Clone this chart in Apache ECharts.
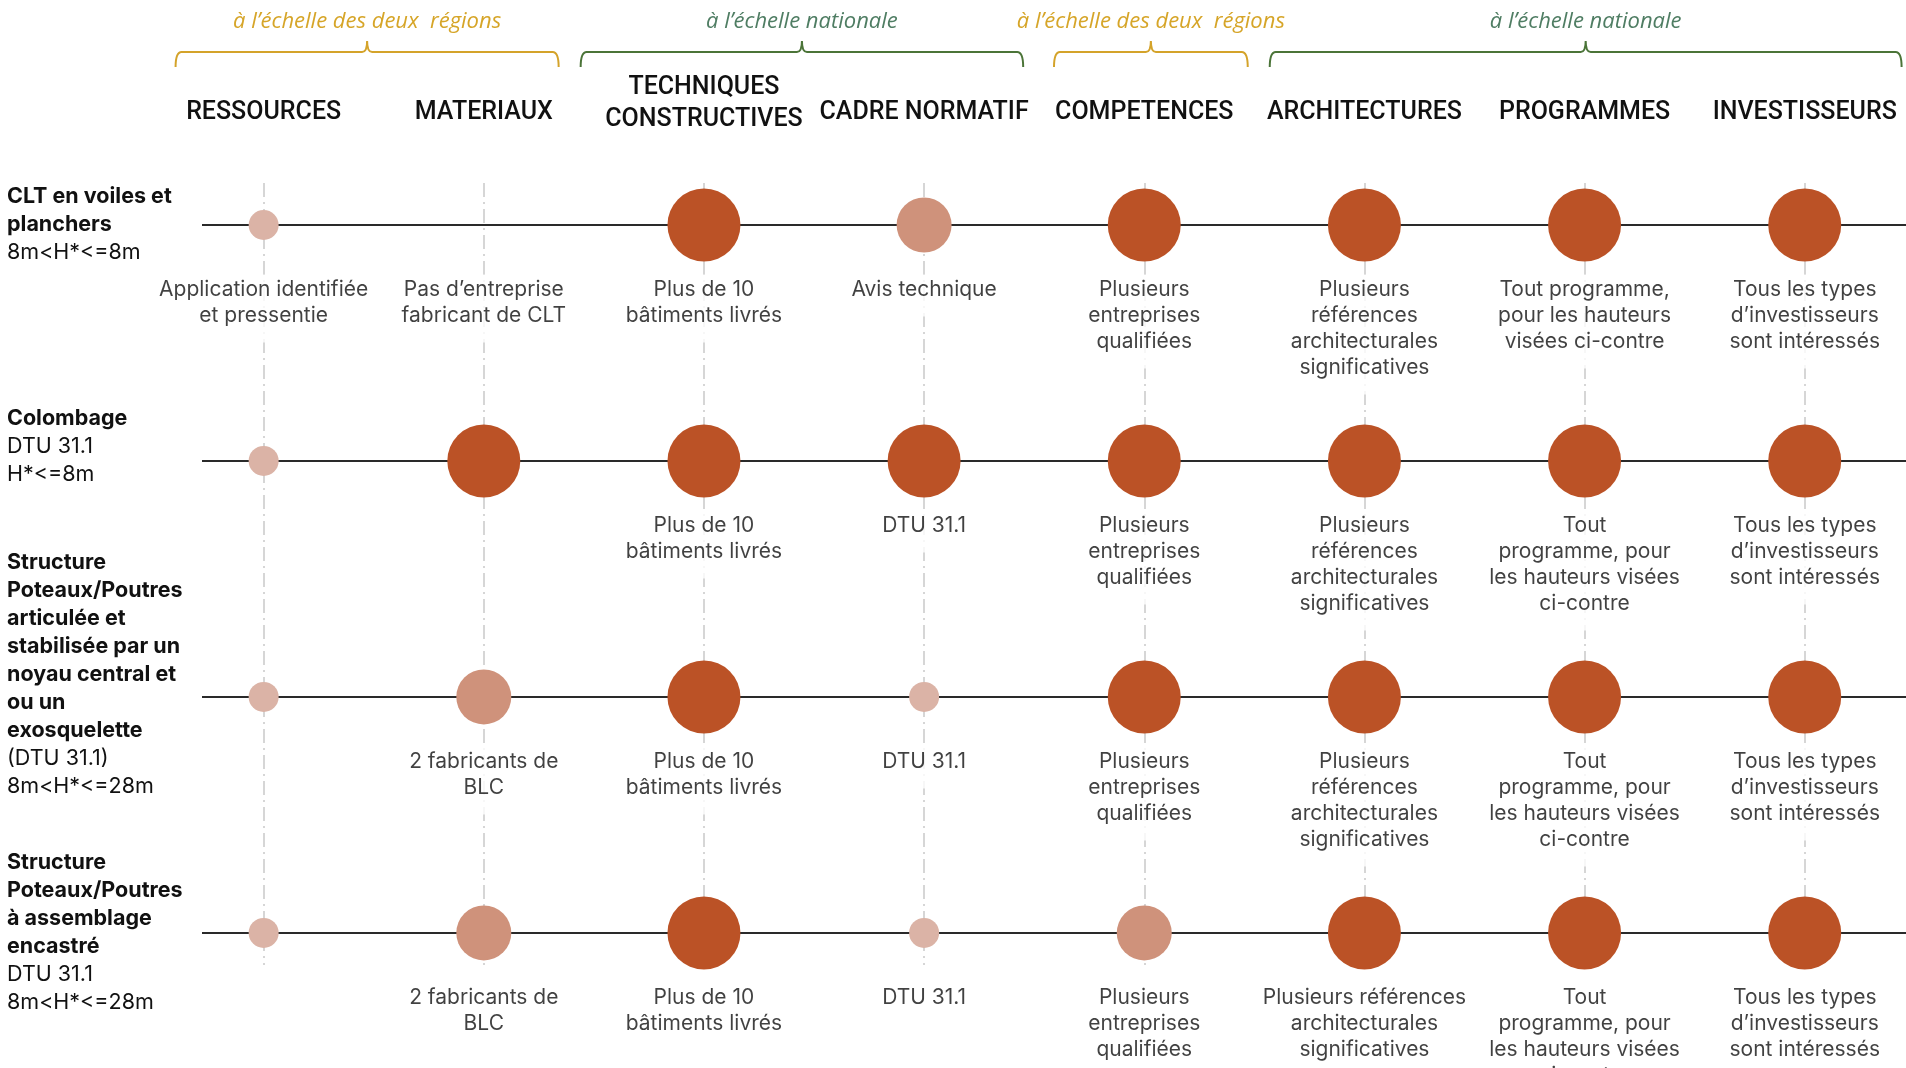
<!DOCTYPE html>
<html>
<head>
<meta charset="utf-8">
<script src="https://cdn.jsdelivr.net/npm/echarts@6/dist/echarts.min.js"></script>
<style>
  html, body { margin: 0; padding: 0; background: #ffffff; }
  #chart { width: 1906px; height: 1068px; }
</style>
</head>
<body>
<div id="chart"></div>
<script>
// ---------- DATA ----------
const categories = ['RESSOURCES', 'MATERIAUX', 'TECHNIQUES\nCONSTRUCTIVES', 'CADRE NORMATIF',
  'COMPETENCES', 'ARCHITECTURES', 'PROGRAMMES', 'INVESTISSEURS'];

const rowTitles = [
  'CLT en voiles et\nplanchers',
  'Colombage',
  'Structure\nPoteaux/Poutres\narticulée et\nstabilisée par un\nnoyau central et\nou un\nexosquelette',
  'Structure\nPoteaux/Poutres\nà assemblage\nencastré'
];
const rowSpecs = [
  '8m<H*<=8m',
  'DTU 31.1\nH*<=8m',
  '(DTU 31.1)\n8m<H*<=28m',
  'DTU 31.1\n8m<H*<=28m'
];

// maturity level per column: 0 = none, 1 = low, 2 = medium, 3 = high
const levelsCLT       = [1, 0, 3, 2, 3, 3, 3, 3];
const levelsColombage = [1, 3, 3, 3, 3, 3, 3, 3];
const levelsArticulee = [1, 2, 3, 1, 3, 3, 3, 3];
const levelsEncastre  = [1, 2, 3, 1, 2, 3, 3, 3];

const notesCLT = [
  'Application identifiée\net pressentie', 'Pas d’entreprise\nfabricant de CLT', 'Plus de 10\nbâtiments livrés',
  'Avis technique', 'Plusieurs\nentreprises\nqualifiées', 'Plusieurs\nréférences\narchitecturales\nsignificatives',
  'Tout programme,\npour les hauteurs\nvisées ci-contre', 'Tous les types\nd’investisseurs\nsont intéressés'
];
const notesColombage = [
  '', '', 'Plus de 10\nbâtiments livrés', 'DTU 31.1', 'Plusieurs\nentreprises\nqualifiées',
  'Plusieurs\nréférences\narchitecturales\nsignificatives',
  'Tout\nprogramme, pour\nles hauteurs visées\nci-contre', 'Tous les types\nd’investisseurs\nsont intéressés'
];
const notesArticulee = [
  '', '2 fabricants de\nBLC', 'Plus de 10\nbâtiments livrés', 'DTU 31.1', 'Plusieurs\nentreprises\nqualifiées',
  'Plusieurs\nréférences\narchitecturales\nsignificatives',
  'Tout\nprogramme, pour\nles hauteurs visées\nci-contre', 'Tous les types\nd’investisseurs\nsont intéressés'
];
const notesEncastre = [
  '', '2 fabricants de\nBLC', 'Plus de 10\nbâtiments livrés', 'DTU 31.1', 'Plusieurs\nentreprises\nqualifiées',
  'Plusieurs références\narchitecturales\nsignificatives',
  'Tout\nprogramme, pour\nles hauteurs visées\nci-contre', 'Tous les types\nd’investisseurs\nsont intéressés'
];

const groupLabels = ['à l’échelle des deux  régions', 'à l’échelle nationale', 'à l’échelle des deux  régions', 'à l’échelle nationale'];
const groupFirst  = [0, 2, 4, 5];
const groupLast   = [1, 3, 4, 7];
const groupScope  = ['regional', 'national', 'regional', 'national'];

// ---------- BUILD ----------
const levelRows = [levelsCLT, levelsColombage, levelsArticulee, levelsEncastre];
const noteRows = [notesCLT, notesColombage, notesArticulee, notesEncastre];

const symbolSizes = { 1: 30, 2: 55, 3: 73 };
const levelColors = { 1: '#DBB3A6', 2: '#CF927B', 3: '#BB5226' };
const scopeText = { regional: '#D6A528', national: '#4F7D63' };
const scopeBrace = { regional: '#D4A32A', national: '#4B7438' };
const titleSpacer = [0, 28, 44, 0];         // layout: extra space under row titles (px), lifts the block
const bracePadL = [0.40, 0.56, 0.41, 0.43]; // layout: brace overhang (axis units)
const bracePadR = [0.34, 0.45, 0.47, 0.44];

const circleData = [];
const noteData = [];
levelRows.forEach((row, r) => row.forEach((lvl, c) => {
  if (lvl > 0) circleData.push([c, r, lvl]);
}));
noteRows.forEach((row, r) => row.forEach((txt, c) => {
  if (txt) noteData.push({ value: [c, r], note: txt });
}));

const FONT = 'Inter, "Noto Sans", sans-serif';

const titleRich = {
  b: { fontFamily: FONT, fontSize: 21.5, fontWeight: 'bold', color: '#111', lineHeight: 28 },
  r: { fontFamily: FONT, fontSize: 21.5, fontWeight: 'normal', color: '#111', lineHeight: 28 }
};
titleSpacer.forEach((h, r) => { if (h) titleRich['s' + r] = { fontSize: 1, lineHeight: h }; });

const option = {
  backgroundColor: '#ffffff',
  animation: false,
  grid: { left: 202, right: 0, top: 183, bottom: 103, containLabel: false },
  xAxis: {
    type: 'value', min: -0.28, max: 7.46, position: 'top',
    axisLine: { show: false }, axisTick: { show: false }, splitLine: { show: false },
    axisLabel: {
      customValues: categories.map((_, i) => i),
      formatter: v => {
        const t = categories[Math.round(v)] || '';
        const lines = t.split('\n').map(s => '{h|' + s + '}');
        if (lines.length > 1) lines.push('{sp|\u00a0}');
        return lines.join('\n');
      },
      margin: 70, verticalAlign: 'middle', align: 'center',
      rich: {
        h: { fontFamily: 'Roboto, sans-serif', fontSize: 25, fontWeight: 500, color: '#111', lineHeight: 32 },
        sp: { fontSize: 1, lineHeight: 18 }
      }
    }
  },
  yAxis: {
    type: 'value', inverse: true, min: -0.178, max: 3.136,
    axisLine: { show: false }, axisTick: { show: false }, splitLine: { show: false },
    axisLabel: {
      customValues: rowTitles.map((_, i) => i),
      align: 'left', margin: 195, verticalAlign: 'middle',
      formatter: v => {
        const r = Math.round(v);
        const parts = rowTitles[r].split('\n').map(s => '{b|' + s + '}')
          .concat(rowSpecs[r].split('\n').map(s => '{r|' + s + '}'));
        if (titleSpacer[r]) parts.push('{s' + r + '|\u00a0}');
        return parts.join('\n');
      },
      rich: titleRich
    }
  },
  series: [
    {
      name: 'vlines', type: 'scatter', silent: true, z: 1,
      data: circleData, symbolSize: 0,
      markLine: {
        silent: true, symbol: 'none', label: { show: false }, animation: false, z: 1,
        lineStyle: { color: '#d6d6d6', width: 2, type: [14, 5, 2, 5] },
        data: categories.map((_, i) => ({ xAxis: i }))
      }
    },
    {
      name: 'hlines', type: 'scatter', silent: true, z: 2,
      data: circleData, symbolSize: 0,
      markLine: {
        silent: true, symbol: 'none', label: { show: false }, animation: false, z: 2,
        lineStyle: { color: '#2a2a2a', width: 2, type: 'solid' },
        data: rowTitles.map((_, r) => ({ yAxis: r }))
      }
    },
    {
      name: 'niveaux', type: 'scatter', silent: true, z: 3,
      data: circleData,
      symbolSize: v => symbolSizes[v[2]],
      itemStyle: { opacity: 1, color: p => levelColors[p.value[2]] }
    },
    {
      name: 'notes', type: 'scatter', silent: true, z: 4,
      data: noteData, symbolSize: 1, itemStyle: { color: 'rgba(0,0,0,0)' },
      label: {
        show: true, position: 'bottom', distance: 49,
        formatter: p => p.data.note,
        fontFamily: FONT, fontSize: 21, color: '#111', lineHeight: 26, align: 'center',
        backgroundColor: '#ffffff', padding: [2, 6, 14, 6]
      },
      labelLayout: { hideOverlap: false }
    },
    {
      name: 'groupes', type: 'custom', silent: true, z: 5, clip: false,
      data: groupLabels.map((_, i) => [groupFirst[i], groupLast[i], i]),
      encode: { x: [0, 1] },
      renderItem: (params, api) => {
        const gi = api.value(2);
        const x0 = api.coord([api.value(0) - bracePadL[gi], 0])[0];
        const x1 = api.coord([api.value(1) + bracePadR[gi], 0])[0];
        const xm = (x0 + x1) / 2;
        const yb = 52, ye = 67, yt = 41, c = 6;
        const d = `M${x0},${ye} Q${x0},${yb} ${x0 + c},${yb} L${xm - 5},${yb} Q${xm},${yb} ${xm},${yt} Q${xm},${yb} ${xm + 5},${yb} L${x1 - c},${yb} Q${x1},${yb} ${x1},${ye}`;
        const scope = groupScope[gi];
        return {
          type: 'group',
          children: [
            { type: 'path', shape: { pathData: d }, style: { fill: 'none', stroke: scopeBrace[scope], lineWidth: 2 } },
            { type: 'text', x: xm, y: 22, style: {
                text: groupLabels[gi], fill: scopeText[scope], font: 'italic 22px "Open Sans", sans-serif',
                align: 'center', verticalAlign: 'middle' } }
          ]
        };
      }
    }
  ]
};

const chart = echarts.init(document.getElementById('chart'), null, { renderer: 'canvas' });
chart.setOption(option);
</script>
</body>
</html>
